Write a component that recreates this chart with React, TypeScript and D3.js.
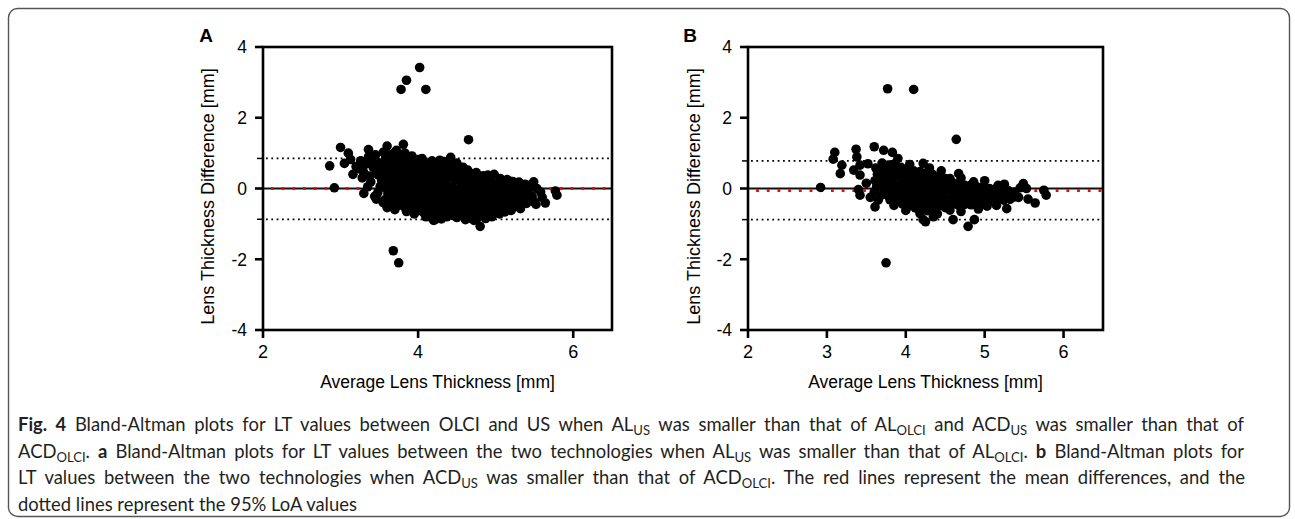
import React, { useLayoutEffect, useRef } from 'react';
import * as d3 from 'd3';

type P = [number, number];

const xTicksA = [2, 4, 6];
const xTicksB = [2, 3, 4, 5, 6];
const yTicks = [-4, -2, 0, 2, 4];
const xDomain: [number, number] = [2, 6.5];
const yDomain: [number, number] = [-4, 4];

const meanA = 0.0;
const loaA = [0.85, -0.87];
const meanB = -0.06;
const loaB = [0.78, -0.88];

const pointsA: P[] = [
  [2.86,0.64],[2.92,0.02],[3.00,1.16],[3.05,0.71],[3.10,1.00],[3.13,0.82],[3.16,0.40],[3.20,0.62],[3.25,0.55],[3.28,0.30],
  [3.30,-0.14],[3.36,1.10],[3.36,0.89],[3.39,0.19],[3.44,-0.22],[3.42,0.60],[3.47,0.45],[3.60,1.20],[3.60,-0.54],[3.72,1.08],
  [3.81,1.25],[3.83,1.00],[3.78,2.80],[3.85,3.06],[4.02,3.42],[4.10,2.80],[4.65,1.38],[3.68,-1.76],[3.75,-2.10],[4.20,-0.90],
  [4.22,-0.88],[4.37,-0.80],[4.42,0.88],[4.61,-0.88],[4.64,0.52],[4.80,-1.07],[4.87,-0.85],[4.98,0.40],[5.49,0.19],[5.53,0.00],
  [5.77,-0.07],[5.79,-0.19],[5.64,-0.41],[5.32,-0.57],
  [3.26,0.78],[3.32,0.68],[3.40,0.82],[3.45,0.95],[3.55,1.02],[3.70,1.02],[3.92,0.92],[4.05,0.85],[4.28,0.80],[4.50,0.72],
  [4.58,0.60],[4.75,0.45],[4.90,0.38],[5.15,0.25],[5.30,0.18],[5.45,0.10],[5.58,-0.10],[5.60,-0.25],[5.52,-0.45],[5.20,-0.62],
  [5.05,-0.72],[4.95,-0.80],[4.72,-0.90],[4.50,-0.82],[4.30,-0.86],[4.10,-0.80],[3.95,-0.72],[3.85,-0.65],[3.70,-0.60],[3.55,-0.40],
  [3.46,-0.30],[3.35,0.05],[3.38,0.35],[3.30,0.45],
  [3.50,0.72],[3.52,0.55],[3.49,0.38],[3.53,0.22],[3.51,0.05],[3.48,-0.12],
  [3.58,0.85],[3.57,0.68],[3.60,0.52],[3.56,0.36],[3.59,0.18],[3.58,0.02],[3.61,-0.15],[3.57,-0.32],
  [3.66,0.92],[3.65,0.76],[3.68,0.60],[3.64,0.44],[3.67,0.27],[3.66,0.10],[3.69,-0.06],[3.65,-0.22],[3.67,-0.42],
  [3.74,0.86],[3.73,0.70],[3.76,0.53],[3.72,0.37],[3.75,0.20],[3.74,0.04],[3.77,-0.13],[3.73,-0.30],[3.75,-0.48],
  [3.82,0.80],[3.81,0.63],[3.84,0.47],[3.80,0.31],[3.83,0.14],[3.82,-0.02],[3.85,-0.19],[3.81,-0.36],[3.83,-0.53],
  [3.90,0.76],[3.89,0.59],[3.92,0.42],[3.88,0.26],[3.91,0.09],[3.90,-0.07],[3.93,-0.24],[3.89,-0.41],[3.91,-0.58],
  [3.98,0.74],[3.97,0.57],[4.00,0.40],[3.96,0.24],[3.99,0.07],[3.98,-0.10],[4.01,-0.27],[3.97,-0.44],[3.99,-0.63],
  [4.06,0.70],[4.05,0.53],[4.08,0.37],[4.04,0.20],[4.07,0.03],[4.06,-0.14],[4.09,-0.31],[4.05,-0.48],[4.07,-0.68],
  [4.14,0.71],[4.13,0.54],[4.16,0.36],[4.12,0.19],[4.15,0.02],[4.14,-0.15],[4.17,-0.33],[4.13,-0.50],[4.15,-0.72],
  [4.22,0.68],[4.21,0.50],[4.24,0.33],[4.20,0.16],[4.23,-0.01],[4.22,-0.18],[4.25,-0.36],[4.21,-0.54],[4.23,-0.76],
  [4.30,0.64],[4.29,0.47],[4.32,0.30],[4.28,0.13],[4.31,-0.04],[4.30,-0.21],[4.33,-0.38],[4.29,-0.56],[4.31,-0.73],
  [4.38,0.70],[4.37,0.51],[4.40,0.33],[4.36,0.15],[4.39,-0.02],[4.38,-0.20],[4.41,-0.37],[4.37,-0.54],[4.39,-0.70],
  [4.46,0.58],[4.45,0.41],[4.48,0.24],[4.44,0.07],[4.47,-0.10],[4.46,-0.27],[4.49,-0.44],[4.45,-0.60],[4.47,-0.71],
  [4.54,0.44],[4.53,0.28],[4.56,0.12],[4.52,-0.04],[4.55,-0.20],[4.54,-0.36],[4.57,-0.52],[4.53,-0.68],
  [4.62,0.33],[4.61,0.17],[4.64,0.01],[4.60,-0.15],[4.63,-0.31],[4.62,-0.47],[4.65,-0.62],[4.61,-0.74],
  [4.70,0.29],[4.69,0.13],[4.72,-0.03],[4.68,-0.19],[4.71,-0.35],[4.70,-0.51],[4.73,-0.66],[4.69,-0.76],
  [4.78,0.24],[4.77,0.08],[4.80,-0.08],[4.76,-0.24],[4.79,-0.40],[4.78,-0.56],[4.81,-0.72],[4.77,-0.82],
  [4.86,0.23],[4.85,0.07],[4.88,-0.09],[4.84,-0.25],[4.87,-0.40],[4.86,-0.55],[4.89,-0.69],
  [4.94,0.19],[4.93,0.03],[4.96,-0.13],[4.92,-0.28],[4.95,-0.43],[4.94,-0.58],[4.97,-0.66],
  [5.02,0.14],[5.01,-0.01],[5.04,-0.16],[5.00,-0.31],[5.03,-0.46],[5.02,-0.60],
  [5.10,0.10],[5.09,-0.05],[5.12,-0.20],[5.08,-0.35],[5.11,-0.50],[5.10,-0.56],
  [5.18,0.09],[5.17,-0.06],[5.20,-0.21],[5.16,-0.36],[5.19,-0.51],
  [5.26,0.04],[5.25,-0.11],[5.28,-0.26],[5.24,-0.40],[5.27,-0.50],
  [5.34,0.00],[5.33,-0.14],[5.36,-0.29],[5.32,-0.43],
  [5.42,-0.05],[5.41,-0.19],[5.44,-0.33],[5.40,-0.42],
  [3.62,0.95],[3.78,0.96],[3.86,0.90],[4.00,0.82],[4.18,0.78],[4.34,0.76],[4.46,0.70],[4.56,0.55],[4.68,0.42],[4.84,0.36],
  [5.06,0.28],[5.22,0.20],[5.38,0.12],[5.47,-0.22],[5.50,-0.38],[5.12,-0.66],[4.90,-0.78],[4.66,-0.84],[4.44,-0.76],[4.18,-0.84],
];

const pointsB: P[] = [
  [2.92,0.03],[3.10,1.02],[3.08,0.83],[3.19,0.66],[3.17,0.42],[3.37,1.11],[3.38,0.89],[3.42,0.66],[3.34,0.52],[3.42,0.38],
  [3.60,1.18],[3.72,1.08],[3.83,1.02],[3.40,-0.03],[3.42,-0.19],[3.65,-0.33],[3.61,-0.52],[4.22,0.71],[4.18,-0.71],[4.25,-0.94],
  [3.77,2.82],[4.10,2.80],[4.64,1.39],[3.75,-2.10],[4.67,0.42],[4.56,0.28],[4.86,0.19],[5.17,0.09],[5.49,0.14],[5.53,0.00],
  [5.75,-0.05],[5.78,-0.19],[5.64,-0.41],[5.43,-0.25],[5.28,-0.57],[5.03,-0.50],[4.35,-0.80],[4.60,-0.88],[4.79,-1.07],[4.87,-0.88],
  [4.22,-0.88],[4.56,-0.61],
  [3.52,0.70],[3.50,0.15],[3.55,-0.25],[3.90,0.85],[4.05,0.68],[4.30,0.58],[4.45,0.50],[4.70,0.30],[5.00,0.22],[5.25,0.12],
  [5.45,0.02],[5.55,-0.30],[5.15,-0.48],[4.92,-0.58],[4.70,-0.65],[4.40,-0.72],[4.00,-0.62],[3.85,-0.48],
  [3.62,0.58],[3.64,0.40],[3.61,0.22],[3.63,0.05],[3.60,-0.10],
  [3.70,0.72],[3.69,0.55],[3.72,0.38],[3.68,0.20],[3.71,0.03],[3.70,-0.18],
  [3.78,0.66],[3.77,0.49],[3.80,0.32],[3.76,0.15],[3.79,-0.02],[3.78,-0.20],[3.80,-0.32],
  [3.86,0.70],[3.85,0.52],[3.88,0.35],[3.84,0.18],[3.87,0.01],[3.86,-0.17],[3.88,-0.35],
  [3.94,0.60],[3.93,0.43],[3.96,0.26],[3.92,0.09],[3.95,-0.08],[3.94,-0.26],[3.96,-0.44],
  [4.02,0.55],[4.01,0.38],[4.04,0.21],[4.00,0.04],[4.03,-0.13],[4.02,-0.31],[4.04,-0.50],
  [4.10,0.50],[4.09,0.33],[4.12,0.16],[4.08,-0.01],[4.11,-0.18],[4.10,-0.36],[4.12,-0.55],
  [4.18,0.48],[4.17,0.31],[4.20,0.14],[4.16,-0.03],[4.19,-0.21],[4.18,-0.40],[4.20,-0.58],
  [4.26,0.44],[4.25,0.27],[4.28,0.10],[4.24,-0.07],[4.27,-0.25],[4.26,-0.44],[4.28,-0.63],
  [4.34,0.40],[4.33,0.23],[4.36,0.06],[4.32,-0.11],[4.35,-0.28],[4.34,-0.45],[4.36,-0.60],
  [4.42,0.34],[4.41,0.17],[4.44,0.00],[4.40,-0.17],[4.43,-0.34],[4.42,-0.50],
  [4.50,0.28],[4.49,0.12],[4.52,-0.04],[4.48,-0.21],[4.51,-0.38],[4.50,-0.54],
  [4.58,0.19],[4.57,0.03],[4.60,-0.13],[4.56,-0.29],[4.59,-0.45],
  [4.66,0.14],[4.65,-0.01],[4.68,-0.17],[4.64,-0.33],[4.67,-0.48],
  [4.74,0.10],[4.73,-0.05],[4.76,-0.20],[4.72,-0.35],[4.75,-0.45],
  [4.82,0.09],[4.81,-0.06],[4.84,-0.21],[4.80,-0.36],[4.83,-0.46],
  [4.90,0.05],[4.89,-0.10],[4.92,-0.25],[4.88,-0.40],
  [4.98,0.04],[4.97,-0.11],[5.00,-0.26],[4.96,-0.40],
  [5.06,0.00],[5.05,-0.14],[5.08,-0.28],[5.04,-0.40],
  [5.14,-0.01],[5.13,-0.15],[5.16,-0.30],
  [5.22,-0.05],[5.21,-0.19],[5.24,-0.33],
  [5.30,-0.06],[5.29,-0.20],[5.32,-0.31],
  [5.38,-0.10],[5.37,-0.24],
];

type Seg = { t: string; sub?: boolean; b?: boolean };
const captionLines: Seg[][] = [
  [{ t: 'Fig. 4', b: true }, { t: ' Bland-Altman plots for LT values between OLCI and US when AL' }, { t: 'US', sub: true },
   { t: ' was smaller than that of AL' }, { t: 'OLCI', sub: true }, { t: ' and ACD' }, { t: 'US', sub: true }, { t: ' was smaller than that of' }],
  [{ t: 'ACD' }, { t: 'OLCI', sub: true }, { t: '. ' }, { t: 'a', b: true }, { t: ' Bland-Altman plots for LT values between the two technologies when AL' },
   { t: 'US', sub: true }, { t: ' was smaller than that of AL' }, { t: 'OLCI', sub: true }, { t: '. ' }, { t: 'b', b: true }, { t: ' Bland-Altman plots for' }],
  [{ t: 'LT values between the two technologies when ACD' }, { t: 'US', sub: true }, { t: ' was smaller than that of ACD' }, { t: 'OLCI', sub: true },
   { t: '. The red lines represent the mean differences, and the' }],
  [{ t: 'dotted lines represent the 95% LoA values' }],
];
const captionWidths = [1226, 1226, 1227, 0];

const FONT = '"Liberation Sans", Arial, sans-serif';
const CAP_FONT = 'Lato, "Open Sans", sans-serif';
const CAP_SX = 0.97;

interface PanelProps {
  left: number; right: number; top: number; bottom: number;
  xTicks: number[]; points: P[]; mean: number; loa: number[];
  letter: string; letterX: number; yLabelX: number;
}

function Panel(p: PanelProps) {
  const x = d3.scaleLinear().domain(xDomain).range([p.left, p.right]);
  const y = d3.scaleLinear().domain(yDomain).range([p.bottom, p.top]);
  const cx = (p.left + p.right) / 2;
  const cy = (p.top + p.bottom) / 2 + 8;
  return (
    <g>
      <line x1={p.left} x2={p.right} y1={y(0)} y2={y(0)} stroke="#111" strokeWidth={2.2} />
      <line x1={p.left} x2={p.right} y1={y(p.mean)} y2={y(p.mean)} stroke="#ff0000" strokeWidth={2.8}
        strokeDasharray="2.8 7.9" strokeDashoffset={2.6} />
      {p.loa.map((v, i) => (
        <g key={i}>
          <line x1={p.left + 3} x2={p.right} y1={y(v)} y2={y(v)} stroke="#000" strokeWidth={1.8}
            strokeDasharray="1.8 3.53" />
          <line x1={p.left - 6} x2={p.left} y1={y(v)} y2={y(v)} stroke="#000" strokeWidth={1.5} />
        </g>
      ))}
      {p.points.map((d, i) => (
        <circle key={i} cx={x(d[0])} cy={y(d[1])} r={4.8} fill="#000" />
      ))}
      <rect x={p.left} y={p.top} width={p.right - p.left} height={p.bottom - p.top} fill="none" stroke="#000" strokeWidth={2.6} />
      {yTicks.map((t) => (
        <g key={t}>
          <line x1={p.left - 8} x2={p.left} y1={y(t)} y2={y(t)} stroke="#000" strokeWidth={2.6} />
          <text x={p.left - 16} y={y(t)} dy="0.36em" textAnchor="end" fontFamily={FONT} fontSize={17.5} fill="#000">{t}</text>
        </g>
      ))}
      {p.xTicks.map((t) => (
        <g key={t}>
          <line x1={x(t)} x2={x(t)} y1={p.bottom} y2={p.bottom + 8} stroke="#000" strokeWidth={2.6} />
          <text x={x(t)} y={358} textAnchor="middle" fontFamily={FONT} fontSize={18} fill="#000">{t}</text>
        </g>
      ))}
      <text x={cx} y={388} textAnchor="middle" fontFamily={FONT} fontSize={17.5} fill="#000">Average Lens Thickness [mm]</text>
      <text transform={`translate(${p.yLabelX},${cy}) rotate(-90)`} textAnchor="middle" fontFamily={FONT} fontSize={18} fill="#000">
        Lens Thickness Difference [mm]
      </text>
      <text x={p.letterX} y={41.7} textAnchor="middle" fontFamily={FONT} fontWeight="bold" fontSize={19} fill="#000">{p.letter}</text>
    </g>
  );
}

function segParts(segs: Seg[]) {
  const parts: React.ReactNode[] = [];
  let shifted = false;
  segs.forEach((s, i) => {
    let dy: number | undefined;
    if (s.sub && !shifted) { dy = 4; shifted = true; }
    else if (!s.sub && shifted) { dy = -4; shifted = false; }
    parts.push(
      <tspan key={i} dy={dy} fontSize={s.sub ? 13.5 : undefined} fontWeight={s.b ? 'bold' : undefined}>{s.t}</tspan>
    );
  });
  return parts;
}

function Caption() {
  const refs = useRef<(SVGTextElement | null)[]>([]);
  useLayoutEffect(() => {
    const apply = () => {
      refs.current.forEach((el, i) => {
        const target = captionWidths[i] / CAP_SX;
        if (!el || !captionWidths[i]) return;
        el.style.wordSpacing = '0px';
        const len = el.getComputedTextLength();
        const spaces = ((el.textContent || '').match(/ /g) || []).length;
        if (spaces > 0) el.style.wordSpacing = `${(target - len) / spaces}px`;
      });
    };
    apply();
    if ((document as any).fonts && (document as any).fonts.ready) (document as any).fonts.ready.then(apply);
  }, []);
  return (
    <g>
      {captionLines.map((segs, i) => (
        <text key={i} ref={(el) => { refs.current[i] = el; }} x={0} y={0}
          transform={`translate(18,${431 + i * 26.5}) scale(${CAP_SX},1)`}
          fontFamily={CAP_FONT} fontSize={19} fill="#231f20" style={{ whiteSpace: 'pre' }}>
          {segParts(segs)}
        </text>
      ))}
    </g>
  );
}

export default function App() {
  return (
    <svg width={1295} height={519} style={{ position: 'absolute', left: 0, top: 0, background: '#fff' }}>
      <rect x={0} y={0} width={1295} height={519} fill="#fff" />
      <rect x={8.5} y={8.5} width={1281} height={508} rx={9} ry={9} fill="none" stroke="#555" strokeWidth={1.4} />
      <Panel left={263} right={612} top={47} bottom={330} xTicks={xTicksA} points={pointsA}
        mean={meanA} loa={loaA} letter="A" letterX={206} yLabelX={214} />
      <Panel left={748} right={1103} top={47} bottom={330} xTicks={xTicksB} points={pointsB}
        mean={meanB} loa={loaB} letter="B" letterX={690} yLabelX={700} />
      <Caption />
    </svg>
  );
}
